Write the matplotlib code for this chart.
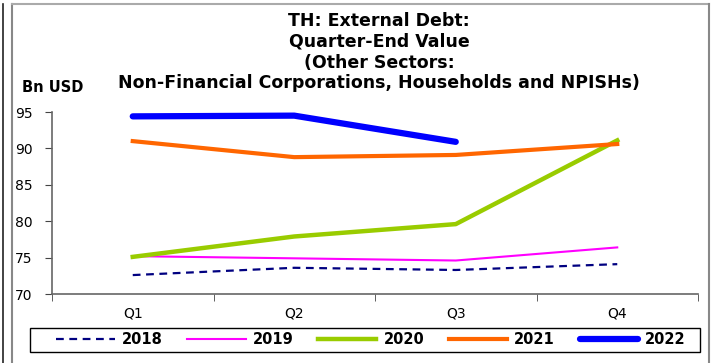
import matplotlib
matplotlib.use("Agg")
import matplotlib.pyplot as plt
from matplotlib.lines import Line2D
from matplotlib.patches import Rectangle

plt.rcParams['font.family'] = ['DejaVu Sans']

quarters = ['Q1', 'Q2', 'Q3', 'Q4']
y2018 = [72.6, 73.6, 73.3, 74.1]
y2019 = [75.2, 74.9, 74.6, 76.4]
y2020 = [75.1, 77.9, 79.6, 91.1]
y2021 = [91.0, 88.8, 89.1, 90.6]
y2022 = [94.4, 94.5, 90.9]

fig = plt.figure(figsize=(7.12, 3.63), dpi=100)
ax = fig.add_axes([52 / 712, 1 - 294 / 363, 646 / 712, 182 / 363])

x = range(len(quarters))
ax.plot(x, y2018, color='#000080', lw=1.6, ls=(0, (3.5, 2.5)), label='2018')
ax.plot(x, y2019, color='#FF00FF', lw=1.5, label='2019')
ax.plot(x, y2020, color='#99CC00', lw=3.2, label='2020')
ax.plot(x, y2021, color='#FF6600', lw=3.0, label='2021')
ax.plot(range(len(y2022)), y2022, color='#0000FF', lw=4.5,
        solid_capstyle='round', label='2022')

ax.set_xlim(-0.5, 3.5)
ax.set_ylim(70, 95)
ax.set_yticks([70, 75, 80, 85, 90, 95])
ax.set_xticks(list(x))
ax.set_xticklabels(quarters)
ax.set_xticks([-0.5, 0.5, 1.5, 2.5, 3.5], minor=True)
ax.tick_params(axis='x', which='major', length=0, pad=9, labelsize=10)
ax.tick_params(axis='x', which='minor', length=5, color='#444444', direction='out')
ax.tick_params(axis='y', length=5, color='#444444', labelsize=10, pad=9)

for s in ['top', 'right']:
    ax.spines[s].set_visible(False)
for s in ['left', 'bottom']:
    ax.spines[s].set_color('#666666')
    ax.spines[s].set_linewidth(1.2)

fig.text(379 / 712, 1 - 12 / 363,
         'TH: External Debt:\nQuarter-End Value\n(Other Sectors:\n'
         'Non-Financial Corporations, Households and NPISHs)',
         ha='center', va='top', fontsize=12.5, fontweight='bold', linespacing=1.2)
fig.text(53 / 712, 1 - 87 / 363, 'Bn USD', ha='center', va='center',
         fontsize=10.5, fontweight='bold')

leg = fig.legend(loc='center', bbox_to_anchor=(371 / 712, 1 - 340 / 363),
                 ncol=5, frameon=False,
                 prop={'weight': 'bold', 'size': 10.5}, handlelength=4.0,
                 handletextpad=0.48, columnspacing=1.7, borderpad=0.25)
fig.add_artist(Rectangle((30 / 712, 1 - 352 / 363), 670 / 712, 24 / 363,
                         transform=fig.transFigure, fill=False,
                         edgecolor='black', lw=1.0))

# outer frame lines
fig.add_artist(Line2D([12 / 712, 12 / 712], [0, 1 - 4 / 363], color='#888888', lw=1.5))
fig.add_artist(Line2D([12 / 712, 709 / 712], [1 - 4 / 363, 1 - 4 / 363], color='#aaaaaa', lw=1.5))
fig.add_artist(Line2D([709 / 712, 709 / 712], [0, 1 - 4 / 363], color='#888888', lw=1.5))
fig.add_artist(Line2D([3 / 712, 3 / 712], [0, 1 - 4 / 363], color='#222222', lw=1.2))

fig.savefig('out.png', dpi=100)
